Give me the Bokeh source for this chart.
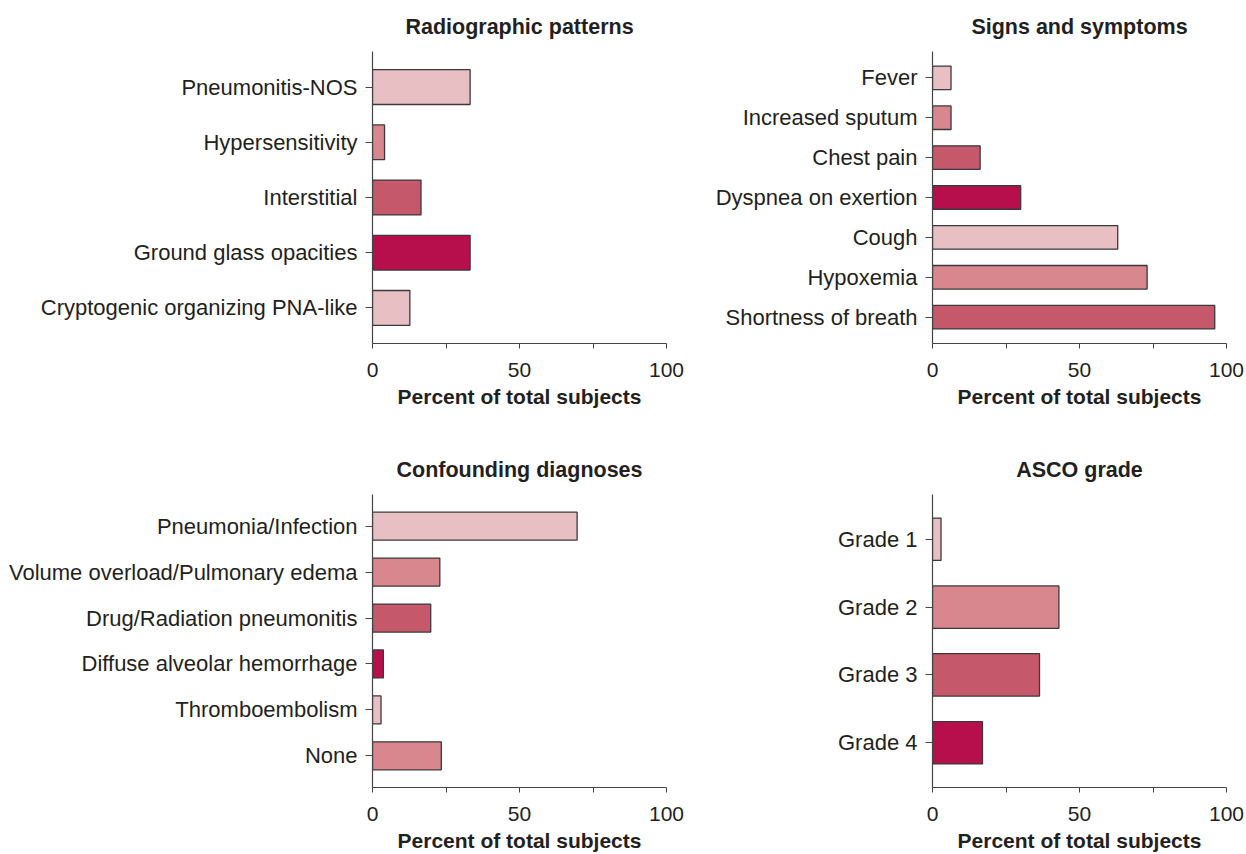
from bokeh.plotting import figure
from bokeh.layouts import column, row
from bokeh.models import ColumnDataSource, Range1d, FixedTicker
from bokeh.embed import file_html
from bokeh.resources import INLINE

# Percent of total subjects per category (top to bottom)
radio_labels = ["Pneumonitis-NOS", "Hypersensitivity", "Interstitial",
                "Ground glass opacities", "Cryptogenic organizing PNA-like"]
radio_values = [33.2, 4.1, 16.5, 33.2, 12.7]

signs_labels = ["Fever", "Increased sputum", "Chest pain", "Dyspnea on exertion",
                "Cough", "Hypoxemia", "Shortness of breath"]
signs_values = [6.3, 6.3, 16.2, 30.0, 63.0, 73.0, 96.0]

conf_labels = ["Pneumonia/Infection", "Volume overload/Pulmonary edema",
               "Drug/Radiation pneumonitis", "Diffuse alveolar hemorrhage",
               "Thromboembolism", "None"]
conf_values = [69.6, 22.9, 19.8, 3.7, 2.9, 23.4]

asco_labels = ["Grade 1", "Grade 2", "Grade 3", "Grade 4"]
asco_values = [2.9, 43.0, 36.4, 17.0]

x_tick_values = [0, 50, 100]
x_minor_ticks = [25, 75]

PALETTE = ["#E8BFC2", "#D9878F", "#C6586B", "#B70F4B"]
FONT = "Liberation Sans"
TEXT = "#231f20"
AXIS = "#444444"


def panel(title, labels, values, width, height, left, right, top, bottom,
          pad, bar_h):
    n = len(labels)
    ys = [n - 1 - i for i in range(n)]
    colors = [PALETTE[i % len(PALETTE)] for i in range(n)]
    src = ColumnDataSource(dict(y=ys, v=values, c=colors))

    p = figure(width=width, height=height, output_backend="svg",
               toolbar_location=None, title=title,
               x_range=Range1d(0, 100), y_range=Range1d(-pad, n - 1 + pad),
               min_border_left=left, min_border_right=right,
               min_border_top=top, min_border_bottom=bottom,
               outline_line_color=None, background_fill_color="white",
               border_fill_color="white")
    p.hbar(y="y", left=0, right="v", height=bar_h, source=src,
           fill_color="c", line_color="#3a3a3a", line_width=1.3)

    p.grid.visible = False

    p.title.align = "center"
    p.title.text_font = FONT
    p.title.text_font_size = "21.5px"
    p.title.text_font_style = "bold"
    p.title.text_color = TEXT
    p.title.standoff = 25

    xa = p.xaxis[0]
    xa.ticker = FixedTicker(ticks=x_tick_values, minor_ticks=x_minor_ticks)
    xa.axis_label = "Percent of total subjects"
    xa.axis_label_text_font = FONT
    xa.axis_label_text_font_size = "21px"
    xa.axis_label_text_font_style = "bold"
    xa.axis_label_text_color = TEXT
    xa.axis_label_standoff = 5
    xa.major_label_text_font = FONT
    xa.major_label_text_font_size = "21px"
    xa.major_label_text_color = TEXT
    xa.major_label_standoff = 14
    xa.major_tick_out = 5
    xa.major_tick_in = 0
    xa.minor_tick_out = 5
    xa.minor_tick_in = 0
    xa.axis_line_color = AXIS
    xa.major_tick_line_color = AXIS
    xa.minor_tick_line_color = AXIS
    xa.axis_line_width = 1.2

    ya = p.yaxis[0]
    ya.ticker = FixedTicker(ticks=ys, minor_ticks=[])
    ya.major_label_overrides = {y: lab for y, lab in zip(ys, labels)}
    ya.major_label_text_font = FONT
    ya.major_label_text_font_size = "22px"
    ya.major_label_text_color = TEXT
    ya.major_label_standoff = 8
    ya.major_tick_out = 7
    ya.major_tick_in = 0
    ya.minor_tick_line_color = None
    ya.axis_line_color = AXIS
    ya.major_tick_line_color = AXIS
    ya.axis_line_width = 1.2
    return p


p1 = panel("Radiographic patterns", radio_labels, radio_values,
           690, 424, 372, 24, 51, 81, 0.645, 0.63)
p2 = panel("Signs and symptoms", signs_labels, signs_values,
           556, 424, 242, 20, 51, 81, 0.66, 0.59)
p3 = panel("Confounding diagnoses", conf_labels, conf_values,
           690, 430, 372, 24, 70, 66, 0.69, 0.61)
p4 = panel("ASCO grade", asco_labels, asco_values,
           556, 430, 242, 20, 70, 66, 0.66, 0.625)

layout = column(row(p1, p2), row(p3, p4))

with open("out.html", "w") as f:
    f.write(file_html(layout, INLINE))
